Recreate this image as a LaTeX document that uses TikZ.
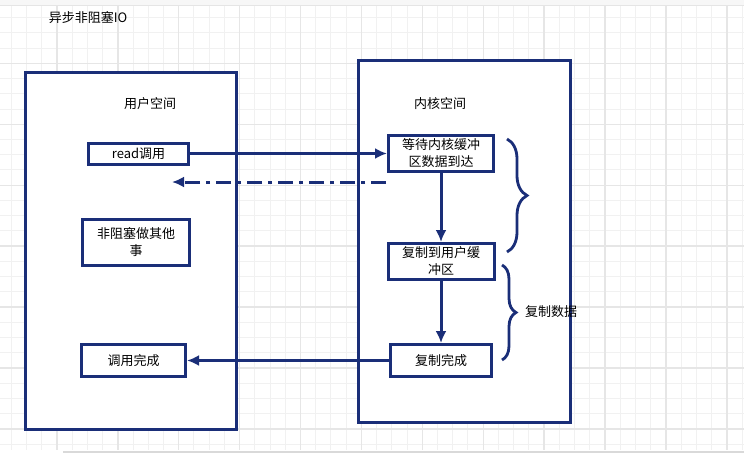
\documentclass[tikz,border=0pt]{standalone}
\usepackage{fontspec}
\newfontfamily\cjkfont{Noto Sans CJK SC}
\usetikzlibrary{positioning, arrows.meta, decorations.pathreplacing}
\definecolor{navyline}{RGB}{26,46,120}
\definecolor{gridminor}{RGB}{241,241,241}
\definecolor{gridmajor}{RGB}{230,230,230}

\begin{document}
\begin{tikzpicture}[x=1pt, y=-1pt, auto,
            box/.style ={draw=navyline, line width=3pt, fill=white, inner sep=0pt, align=center,
            text=black, font=\cjkfont\fontsize{13}{17}\selectfont},
            space/.style ={draw=navyline, line width=3pt, fill=white, inner sep=0pt},
            txt/.style ={inner sep=0pt, text=black, font=\cjkfont\fontsize{13}{17}\selectfont},
            link/.style ={-{Latex[length=12pt,width=11pt]}, draw=navyline, line width=3pt},
            curly/.style ={draw=navyline, line width=2.8pt, decorate, decoration={brace, amplitude=#1}}]

        \useasboundingbox (0,0) rectangle (744,453);
        \fill[white] (0,0) rectangle (744,453);

        % cuadricula del fondo
        \foreach \i in {0,...,49} {
            \draw[gridminor, line width=1pt] ({-4+\i*15.225},5) -- ({-4+\i*15.225},450);
        }
        \foreach \i in {0,...,29} {
            \draw[gridminor, line width=1pt] (0,{2.5+\i*15.225}) -- (744,{2.5+\i*15.225});
        }
        \foreach \i in {0,...,12} {
            \draw[gridmajor, line width=1.4pt] ({-4+\i*60.9},5) -- ({-4+\i*60.9},450);
        }
        \foreach \i in {1,...,7} {
            \draw[gridmajor, line width=1.4pt] (0,{2.5+\i*60.9}) -- (744,{2.5+\i*60.9});
        }
        \fill[gray!6] (0,0) rectangle (744,5);
        \draw[gray!20, line width=1pt] (0,5) -- (744,5);
        \fill[gray!30] (63,451) rectangle (744,453);

        \node[txt] (title) at (88, 18) {异步非阻塞IO};

        \node[space, minimum width =211pt, minimum height =357pt] (user) at (131, 251) {};
        \node[space, minimum width =212pt, minimum height =362pt] (kernel) at (464, 241.5) {};
        \node[txt] (userlbl) at (150, 104) {用户空间};
        \node[txt] (kernellbl) at (440, 104) {内核空间};

        \node[box, minimum width =100pt, minimum height =21pt] (read) at (138.5, 153.5) {read调用};
        \node[box, minimum width =107pt, minimum height =46pt] (other) at (136, 242.5) {非阻塞做其他\\事};
        \node[box, minimum width =104pt, minimum height =32pt] (callend) at (133.5, 360.5) {调用完成};

        \node[box, minimum width =105pt, minimum height =36pt] (wait) at (441, 153.5) {等待内核缓冲\\区数据到达};
        \node[box, minimum width =106pt, minimum height =36pt] (copy) at (441, 261.5) {复制到用户缓\\冲区};
        \node[box, minimum width =101pt, minimum height =32pt] (done) at (441, 360.5) {复制完成};

        \coordinate (back0) at (386, 182);
        \coordinate (back1) at (172, 182);
        \coordinate (b1top) at (507, 139);
        \coordinate (b1bot) at (507, 252);
        \coordinate (b2top) at (502, 265);
        \coordinate (b2bot) at (502, 360);
        \node[txt] (copydata) at (551, 312) {复制数据};

        \path (read) edge[link] (wait);
        \path (back0) edge[link, dash pattern=on 15pt off 6pt on 4pt off 6pt] (back1);
        \path (wait) edge[link] (copy);
        \path (copy) edge[link] (done);
        \path (done) edge[link] (callend);

        \draw[curly=20pt] (b1top) -- (b1bot);
        \draw[curly=14pt] (b2top) -- (b2bot);
    \end{tikzpicture}
\end{document}
